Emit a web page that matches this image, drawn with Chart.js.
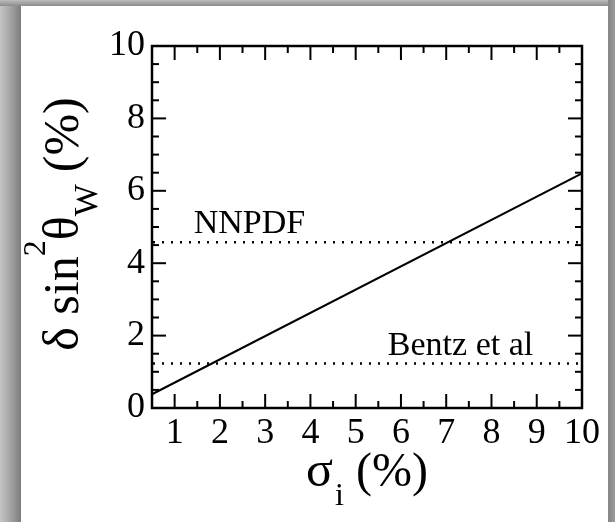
<!DOCTYPE html>
<html><head><meta charset="utf-8">
<script src="https://cdn.jsdelivr.net/npm/chart.js@4/dist/chart.umd.min.js"></script>
<style>
html,body{margin:0;padding:0;width:615px;height:522px;overflow:hidden;background:#fff;}
#shadeL{position:absolute;left:0;top:0;width:21px;height:522px;background:linear-gradient(to right,#c6c6c6,#a0a0a0 55%,#7c7c7c);}
#shadeT{position:absolute;left:0;top:0;width:615px;height:6px;background:linear-gradient(to bottom,#bcbcbc,#8c8c8c);}
#shadeR{position:absolute;left:608px;top:0;width:7px;height:522px;background:linear-gradient(to right,#858585,#9a9a9a);}
canvas{position:absolute;left:0;top:0;}
</style></head>
<body>
<div id="shadeL"></div><div id="shadeT"></div><div id="shadeR"></div>
<canvas id="c" width="615" height="522"></canvas>
<script>
// ---- data ----
const sigmaI = [0.5, 10];            // σ_i (%)
const deltaSin2 = [0.38, 6.48];      // δ sin²θ_W (%)
const nnpdfLevel = 4.58;
const bentzLevel = 1.23;
const xRange = [0.5, 10];
const yRange = [0, 10];
const xMajorTicks = [1,2,3,4,5,6,7,8,9,10];
const xTickLabels = ['1','2','3','4','5','6','7','8','9','10'];
const xMinorTicks = [1.5,2.5,3.5,4.5,5.5,6.5,7.5,8.5,9.5];
const yMajorTicks = [0,2,4,6,8,10];
const yTickLabels = ['0','2','4','6','8','10'];
const yMinorTicks = [0.5,1,1.5,2.5,3,3.5,4.5,5,5.5,6.5,7,7.5,8.5,9,9.5];
const annotationTexts = ['NNPDF','Bentz et al'];
const annotationAnchors = [[1.42,4.83],[5.71,1.46]];

const SERIF = '"Liberation Serif","Times New Roman",serif';

const framePlugin = {
  id:'framePlugin',
  afterDraw(chart){
    const {ctx, chartArea:a, scales:{x,y}} = chart;
    ctx.save();
    ctx.strokeStyle='#000';
    ctx.lineWidth=2;
    const seg=(x1,y1,x2,y2)=>{ctx.beginPath();ctx.moveTo(x1,y1);ctx.lineTo(x2,y2);ctx.stroke();};
    const MAJ=14, MIN=7;
    xMajorTicks.forEach(v=>{const p=x.getPixelForValue(v);seg(p,a.bottom,p,a.bottom-MAJ);seg(p,a.top,p,a.top+MAJ);});
    xMinorTicks.forEach(v=>{const p=x.getPixelForValue(v);seg(p,a.bottom,p,a.bottom-MIN);seg(p,a.top,p,a.top+MIN);});
    yMajorTicks.forEach(v=>{const p=y.getPixelForValue(v);seg(a.left,p,a.left+MAJ,p);seg(a.right,p,a.right-MAJ,p);});
    yMinorTicks.forEach(v=>{const p=y.getPixelForValue(v);seg(a.left,p,a.left+MIN,p);seg(a.right,p,a.right-MIN,p);});
    ctx.lineWidth=2.5;
    ctx.strokeRect(a.left,a.top,a.width,a.height);

    // annotations
    ctx.fillStyle='#000';
    ctx.textBaseline='alphabetic';
    ctx.textAlign='left';
    ctx.font='34px '+SERIF;
    annotationTexts.forEach((t,i)=>{
      ctx.fillText(t, x.getPixelForValue(annotationAnchors[i][0]), y.getPixelForValue(annotationAnchors[i][1]));
    });

    // rich text helper
    const drawPieces=(pieces, cx, base)=>{
      let total=0;
      pieces.forEach(p=>{ctx.font=p.f+'px '+SERIF; p.w=ctx.measureText(p.t).width+(p.gap||0); total+=p.w;});
      let u=cx-total/2;
      pieces.forEach(p=>{ctx.font=p.f+'px '+SERIF; ctx.fillText(p.t,u+(p.pre||0),base+(p.dy||0)); u+=p.w;});
    };
    // x title: σ_i (%)
    drawPieces([
      {t:'σ',f:50},
      {t:'i',f:32,dy:19,pre:2,gap:2},
      {t:' (%)',f:48}
    ], (a.left+a.right)/2, 486);

    // y title: δ sin²θ_W (%)
    ctx.save();
    ctx.translate(78,(a.top+a.bottom)/2-3);
    ctx.rotate(-Math.PI/2);
    drawPieces([
      {t:'δ sin',f:50},
      {t:'2',f:32,dy:-33},
      {t:'θ',f:50},
      {t:'W',f:34,dy:19,gap:12},
      {t:'(%)',f:50}
    ], 0, 0);
    ctx.restore();
    ctx.restore();
  }
};

const dotted = (lvl)=>({
  data:[{x:xRange[0],y:lvl},{x:xRange[1],y:lvl}],
  borderColor:'#000',borderWidth:2.5,borderDash:[2,7],borderDashOffset:-1,
  borderCapStyle:'butt',pointRadius:0,fill:false
});

new Chart(document.getElementById('c'),{
  type:'line',
  data:{datasets:[
    {data:sigmaI.map((v,i)=>({x:v,y:deltaSin2[i]})),borderColor:'#000',borderWidth:2,pointRadius:0,fill:false,tension:0},
    dotted(nnpdfLevel),
    dotted(bentzLevel)
  ]},
  options:{
    responsive:false,animation:false,devicePixelRatio:1,
    layout:{padding:{left:0,top:46,right:33,bottom:0}},
    plugins:{legend:{display:false},tooltip:{enabled:false},title:{display:false}},
    scales:{
      x:{type:'linear',min:xRange[0],max:xRange[1],
        afterFit(s){s.height=114;},
        afterBuildTicks(s){s.ticks=xMajorTicks.map(v=>({value:v}));},
        grid:{display:false,drawTicks:false},border:{display:false},
        ticks:{autoSkip:false,maxRotation:0,minRotation:0,padding:4,color:'#000',
          font:{family:SERIF,size:36},callback:(v,i)=>xTickLabels[i]}},
      y:{type:'linear',min:yRange[0],max:yRange[1],
        afterFit(s){s.width=152;},
        afterBuildTicks(s){s.ticks=yMajorTicks.map(v=>({value:v}));},
        grid:{display:false,drawTicks:false},border:{display:false},
        ticks:{autoSkip:false,padding:7,color:'#000',
          font:{family:SERIF,size:36},callback:(v,i)=>yTickLabels[i]}}
    }
  },
  plugins:[framePlugin]
});
</script>
</body></html>
